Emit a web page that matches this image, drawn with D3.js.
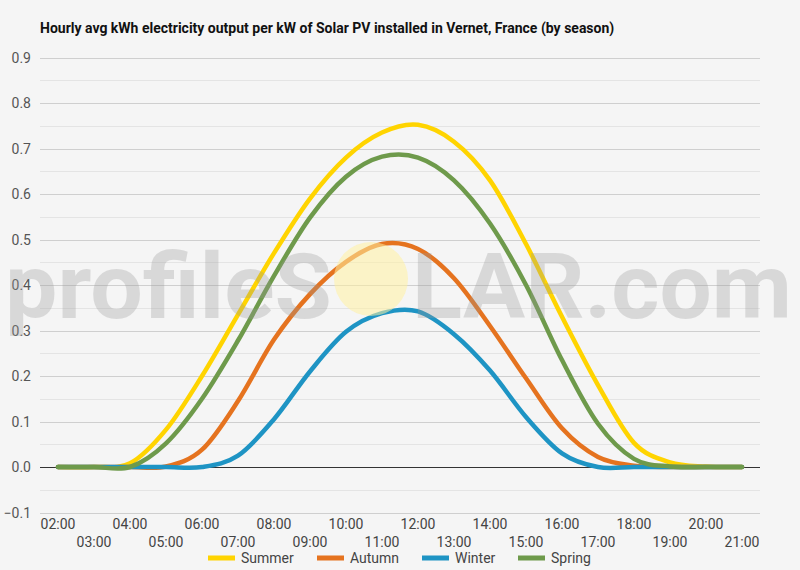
<!DOCTYPE html>
<html>
<head>
<meta charset="utf-8">
<title>Vernet solar PV by season</title>
<script src="https://d3js.org/d3.v7.min.js"></script>
<style>
    body { margin: 0; background: #f5f5f5; }
    svg { display: block; font-family: Roboto, "Noto Sans", sans-serif; }
</style>
</head>
<body>
<div id="chart"></div>
<script>
// hours on the x axis
var hours = ["02:00", "03:00", "04:00", "05:00", "06:00", "07:00", "08:00", "09:00", "10:00", "11:00",
             "12:00", "13:00", "14:00", "15:00", "16:00", "17:00", "18:00", "19:00", "20:00", "21:00"]

// avg kWh per kW installed
var summer = [0, 0, 0.008, 0.082, 0.2, 0.335, 0.47, 0.59, 0.68, 0.735, 0.752, 0.715, 0.63, 0.49, 0.33, 0.18, 0.053, 0.01, 0.001, 0]
var autumn = [0, 0, 0, 0.001, 0.038, 0.145, 0.28, 0.38, 0.451, 0.49, 0.479, 0.415, 0.31, 0.195, 0.085, 0.022, 0.003, 0, 0, 0]
var winter = [0, 0, 0, 0, 0, 0.025, 0.105, 0.21, 0.297, 0.338, 0.342, 0.292, 0.212, 0.11, 0.03, 0, 0, 0, 0, 0]
var spring = [0, 0, 0, 0.052, 0.15, 0.278, 0.42, 0.548, 0.638, 0.682, 0.68, 0.63, 0.535, 0.4, 0.235, 0.095, 0.018, 0.001, 0, 0]

var seasons = ["Summer", "Autumn", "Winter", "Spring"]
var seriesValues = [summer, autumn, winter, spring]
var yTicks = [-0.1, 0, 0.1, 0.2, 0.3, 0.4, 0.5, 0.6, 0.7, 0.8, 0.9]

var colors = ["#ffd400", "#e5731f", "#1e94c4", "#6e9a4b"]

const W = 800, H = 570
const plotLeft = 40, plotRight = 760, plotTop = 57.5, plotBottom = 512.5

const svg = d3.select("#chart").append("svg")
    .attr("width", W).attr("height", H)

svg.append("rect").attr("width", W).attr("height", H).attr("fill", "#f5f5f5")

const x = d3.scaleBand().domain(hours).range([plotLeft, plotRight])
const y = d3.scaleLinear().domain([-0.1, 0.9]).range([plotBottom, plotTop])

// minor gridlines (halfway between ticks)
svg.append("g").selectAll("line")
    .data(yTicks.slice(0, -1))
    .join("line")
    .attr("x1", plotLeft).attr("x2", plotRight)
    .attr("y1", d => Math.round(y(d + 0.05)) + 0.5)
    .attr("y2", d => Math.round(y(d + 0.05)) + 0.5)
    .attr("stroke", "#e4e4e4").attr("stroke-width", 1)

// major gridlines
svg.append("g").selectAll("line")
    .data(yTicks)
    .join("line")
    .attr("x1", plotLeft).attr("x2", plotRight)
    .attr("y1", d => Math.round(y(d)) + 0.5)
    .attr("y2", d => Math.round(y(d)) + 0.5)
    .attr("stroke", d => d === 0 ? "#333" : "#cfcfcf").attr("stroke-width", 1)

// y labels
svg.append("g").selectAll("text")
    .data(yTicks)
    .join("text")
    .attr("x", 31).attr("y", d => y(d) + 5)
    .attr("text-anchor", "end")
    .attr("font-size", 14).attr("fill", "#555")
    .text(d => d3.format(".1f")(d))

// x labels, staggered over two rows
svg.append("g").selectAll("text")
    .data(hours)
    .join("text")
    .attr("x", d => x(d) + x.bandwidth() / 2)
    .attr("y", (d, i) => i % 2 === 0 ? 529 : 547)
    .attr("text-anchor", "middle")
    .attr("font-size", 14).attr("fill", "#444")
    .text(d => d)

// season lines
const line = d3.line()
    .x((d, i) => x(hours[i]) + x.bandwidth() / 2)
    .y(d => y(d))
    .curve(d3.curveCardinal.tension(0))

svg.append("g").selectAll("path")
    .data(seriesValues)
    .join("path")
    .attr("d", d => line(d))
    .attr("fill", "none")
    .attr("stroke", (d, i) => colors[i])
    .attr("stroke-width", 4.5)
    .attr("stroke-linejoin", "round")
    .attr("stroke-linecap", "round")

// watermark, sits over the lines
svg.append("circle").attr("cx", 371).attr("cy", 279).attr("r", 37)
    .attr("fill", "#fff1a0").attr("opacity", 0.55)
svg.append("text").attr("x", 5).attr("y", 318)
    .attr("font-size", 90).attr("font-weight", "bold").attr("fill", "#999").attr("opacity", 0.3)
    .attr("textLength", 327).attr("lengthAdjust", "spacingAndGlyphs")
    .text("profileS")
svg.append("text").attr("x", 412).attr("y", 318)
    .attr("font-size", 90).attr("font-weight", "bold").attr("fill", "#999").attr("opacity", 0.3)
    .attr("textLength", 380).attr("lengthAdjust", "spacingAndGlyphs")
    .text("LAR.com")

// title
svg.append("text").attr("x", 40).attr("y", 33)
    .attr("font-size", 14).attr("font-weight", "bold").attr("fill", "#111")
    .text("Hourly avg kWh electricity output per kW of Solar PV installed in Vernet, France (by season)")

// handmade legend
var legendX = [208, 317, 422, 518]
const lg = svg.append("g")
seasons.forEach(function (s, i) {
    lg.append("rect").attr("x", legendX[i]).attr("y", 555.5).attr("width", 27).attr("height", 5)
        .attr("fill", colors[i])
    lg.append("text").attr("x", legendX[i] + 33).attr("y", 563)
        .attr("font-size", 14).attr("fill", "#444")
        .text(s)
})
</script>
</body>
</html>
